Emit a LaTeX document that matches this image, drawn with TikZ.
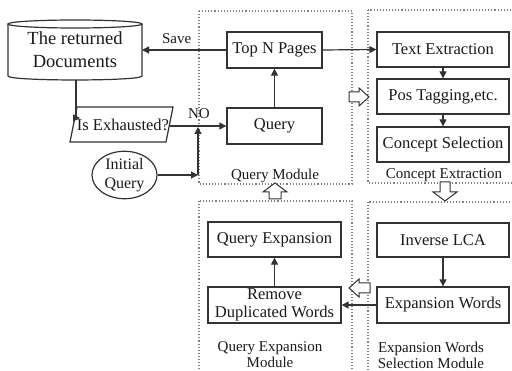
\documentclass[tikz,border=0pt]{standalone}
\usepackage{fontspec}
\setmainfont{Liberation Serif}
\usetikzlibrary{arrows.meta,shapes.geometric}
\definecolor{ln}{HTML}{333333}
\definecolor{tx}{HTML}{1A1A1A}
\tikzset{
  box/.style={draw=ln, line width=1.3pt, rectangle, inner sep=0pt, align=center, text=tx,
    font=\fontsize{16.5}{18}\selectfont},
  lbl/.style={inner sep=0pt, align=center, text=tx, font=\fontsize{15}{16}\selectfont},
  conn/.style={draw=ln, line width=1.2pt, -{Triangle[length=7pt,width=7pt]}},
  plain/.style={draw=ln, line width=1.2pt},
  module/.style={draw=gray, dotted, line width=1.1pt},
  hollow/.style={draw=ln, line width=1pt, fill=white},
}
\begin{document}
\begin{tikzpicture}[x=1pt,y=-1pt]
\useasboundingbox (0,0) rectangle (512,371);
\clip (0,0) rectangle (512,371);
\fill[white] (0,0) rectangle (512,371);

% modules
\draw[module] (199,11) rectangle (352,184);
\draw[module] (368,10) rectangle (530,183);
\draw[module] (199,201) rectangle (352,390);
\draw[module] (368,202) rectangle (530,390);

% cylinder
\node[inner sep=0pt, align=center, text=tx, font=\fontsize{18.5}{23}\selectfont,
      minimum width=134pt, minimum height=56pt] (docs) at (75,50) {The returned\\Documents};
\draw[plain] (75,24) ellipse [x radius=67, y radius=4];
\draw[plain] (8,24) -- (8,76) .. controls (8,81.3) and (142,81.3) .. (142,76) -- (142,24);
\coordinate (docsE) at (142,50);
\coordinate (docsS) at (76,80);

% parallelogram
\node[inner sep=0pt, text=tx, font=\fontsize{16.5}{18}\selectfont] (exh) at (123,125) {Is Exhausted?};
\draw[plain] (77,107) -- (173,107) -- (166,142) -- (70,142) -- cycle;
\coordinate (exhW) at (80,118);
\coordinate (exhE) at (169.6,126);

% initial query
\node[draw=ln, line width=1.2pt, ellipse, minimum width=65pt, minimum height=45pt, inner sep=0pt,
      align=center, text=tx, font=\fontsize{16}{19}\selectfont] (init) at (124.5,175) {Initial\\Query};

% query module boxes
\node[box, minimum width=95pt, minimum height=36pt] (topn) at (274.5,50) {Top N Pages};
\node[box, minimum width=95pt, minimum height=36pt] (query) at (274.5,126) {Query};
\node[lbl] (qmod) at (275,176) {Query Module};

% concept extraction
\node[box, minimum width=132pt, minimum height=35pt] (textex) at (443,49.5) {Text Extraction};
\node[box, minimum width=132pt, minimum height=35pt] (pos) at (443,96.5) {Pos Tagging,etc.};
\node[box, minimum width=132pt, minimum height=35pt] (concept) at (443,144.5) {Concept Selection};
\node[lbl] (cemod) at (444,175) {Concept Extraction};

% expansion words selection
\node[box, minimum width=132pt, minimum height=34pt] (ilca) at (443,240) {Inverse LCA};
\node[box, minimum width=132pt, minimum height=36pt] (ew) at (443,305) {Expansion Words};
\node[lbl, font=\fontsize{15}{15.5}\selectfont] (ewmod) at (431,355.5) {Expansion Words\\Selection Module};

% query expansion
\node[box, minimum width=133pt, minimum height=35pt] (qexp) at (274.5,239.5) {Query Expansion};
\node[box, minimum width=133pt, minimum height=36pt, font=\fontsize{16.5}{18}\selectfont] (remove) at (274.5,305) {Remove\\Duplicated Words};
\node[lbl, font=\fontsize{15}{16}\selectfont] (qemod) at (270,355) {Query Expansion\\Module};

% connectors
\draw[conn] (topn.west) -- node[above=2pt, text=tx, font=\fontsize{15}{16}\selectfont, xshift=-7.5pt] {Save} (docsE);
\draw[conn] (docsS) |- (exhW);
\draw[conn] (exhE) -- (exhE -| query.west);
\node[inner sep=0pt, text=tx, font=\fontsize{15}{16}\selectfont] (no) at (199,114) {NO};
\coordinate (j1) at (198,175);
\coordinate (j2) at (198,127);
\draw[conn] (init.east) -- (j1);
\draw[conn] (j1) -- (j2);
\draw[conn] (query.north) -- (topn.south);
\draw[conn] (topn.east) -- (textex.west);
\draw[conn] (textex.south) -- (pos.north);
\draw[conn] (pos.south) -- (concept.north);
\draw[conn] (ilca.south) -- (ew.north);
\draw[conn] (ew.west) -- (remove.east);
\draw[conn] (remove.north) -- (qexp.south);

% hollow block arrows
\draw[hollow] (349,92) -- (359,92) -- (359,88) -- (369,97) -- (359,106) -- (359,102) -- (349,102) -- cycle;
\draw[hollow] (440,182) -- (450,182) -- (450,192) -- (457,192) -- (445,201) -- (433,192) -- (440,192) -- cycle;
\draw[hollow] (275,183) -- (287,192) -- (281,192) -- (281,199) -- (269,199) -- (269,192) -- (263,192) -- cycle;
\draw[hollow] (349,288) -- (359,279) -- (359,283) -- (370,283) -- (370,293) -- (359,293) -- (359,297) -- cycle;
\end{tikzpicture}
\end{document}
